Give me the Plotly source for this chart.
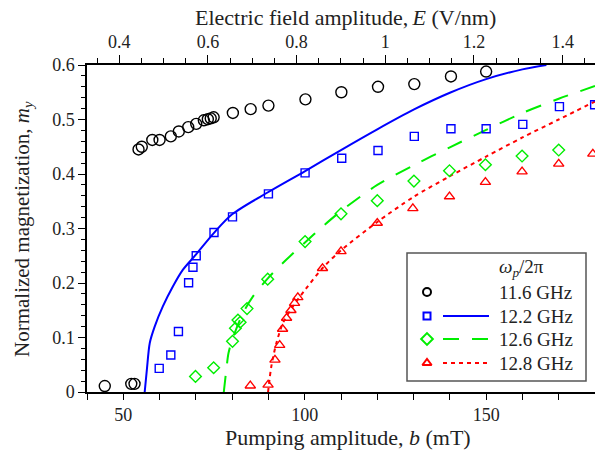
import plotly.graph_objects as go

# ---------------- data ----------------
b_116 = [44.9, 52.2, 53.1, 54.2, 55.1, 58.0, 60.0, 63.1, 65.3, 67.9, 70.1, 72.2, 73.3, 74.1, 74.9,
         80.2, 85.1, 90.0, 100.2, 110.1, 120.2, 130.2, 140.3, 150.0]
m_116 = [0.011, 0.015, 0.015, 0.445, 0.450, 0.4625, 0.4625, 0.469, 0.478, 0.486, 0.492, 0.4986, 0.5005,
         0.502, 0.504, 0.512, 0.519, 0.5255, 0.537, 0.550, 0.560, 0.565, 0.579, 0.588]

b_122 = [59.9, 63.1, 65.2, 68.0, 69.2, 70.1, 75.0, 80.1, 90.0, 100.1, 110.2, 120.2, 130.2, 140.3,
         150.0, 160.1, 170.2, 179.9]
m_122 = [0.0433, 0.068, 0.111, 0.2004, 0.229, 0.250, 0.2926, 0.3214, 0.3635, 0.402, 0.429, 0.443,
         0.469, 0.483, 0.483, 0.491, 0.5236, 0.527]

b_126 = [69.9, 74.9, 80.1, 80.9, 81.6, 82.2, 84.1, 89.8, 100.1, 110.0, 120.0, 130.1, 139.9, 149.8,
         159.9, 170.0]
m_126 = [0.0286, 0.0445, 0.093, 0.117, 0.132, 0.128, 0.153, 0.207, 0.276, 0.327, 0.351, 0.387, 0.406,
         0.417, 0.433, 0.444]

b_128 = [85.0, 89.9, 91.8, 93.1, 93.9, 95.0, 96.2, 97.2, 98.1, 104.9, 110.0, 120.0, 129.8, 139.9,
         149.8, 159.9, 170.0, 179.4]
m_128 = [0.0116, 0.013, 0.059, 0.086, 0.1155, 0.1357, 0.150, 0.163, 0.1737, 0.227, 0.258, 0.310,
         0.337, 0.3586, 0.385, 0.4044, 0.4185, 0.437]

# model curves
fit_b_122 = [55.9, 56.5, 57.3, 58.65, 60.9, 63.7, 66.4, 70.0, 75.0, 80.0, 90.0, 100.0, 110.0, 120.0,
             130.0, 140.0, 150.0, 160.0, 166.6]
fit_m_122 = [0.0, 0.041, 0.09, 0.12, 0.157, 0.194, 0.224, 0.252, 0.292, 0.326, 0.367, 0.405, 0.444,
             0.482, 0.518, 0.549, 0.574, 0.592, 0.600]

fit_b_126 = [77.7, 78.4, 79.0, 80.2, 83.0, 85.7, 89.9, 94.9, 100.0, 105.0, 110.0, 120.0, 130.0,
             140.0, 150.0, 160.0, 170.0, 180.0]
fit_m_126 = [0.0, 0.041, 0.0715, 0.099, 0.145, 0.175, 0.209, 0.2425, 0.274, 0.304, 0.332, 0.380, 0.416,
             0.449, 0.481, 0.512, 0.538, 0.5615]

fit_b_128 = [89.9, 90.8, 92.2, 94.0, 96.75, 100.4, 105.0, 110.0, 120.0, 130.0, 140.0, 150.0,
             160.0, 170.0, 180.0]
fit_m_128 = [0.0, 0.047, 0.09, 0.1265, 0.157, 0.19, 0.228, 0.260, 0.312, 0.358, 0.396, 0.432,
             0.467, 0.500, 0.533]

series_names = ["11.6 GHz", "12.2 GHz", "12.6 GHz", "12.8 GHz"]
legend_title = "<i>ω<sub>p</sub></i>/2π"

# E = b / k  (top axis conversion, mT per V/nm)
k_conv = 122.2
b_range = [40, 180]
m_range = [0, 0.6]

# ---------------- style ----------------
FONT = "'Liberation Serif', 'Times New Roman', 'DejaVu Serif', serif"
TXT = "#222222"
BLACK = "#000000"
BLUE = "#0000ff"
GREEN = "#00ee00"
RED = "#ff0000"

W, H = 595, 453
ML, MR, MT, MB = 87, 0, 65, 61
PW, PH = W - ML - MR, H - MT - MB

fig = go.Figure()

# fitted curves
fig.add_trace(go.Scatter(x=fit_b_122, y=fit_m_122, mode="lines", line=dict(color=BLUE, width=2, shape="spline", smoothing=0.8),
                         showlegend=False, hoverinfo="skip"))
fig.add_trace(go.Scatter(x=fit_b_126, y=fit_m_126, mode="lines", line=dict(color=GREEN, width=2, dash="16px,13px", shape="spline", smoothing=0.8),
                         showlegend=False, hoverinfo="skip"))
fig.add_trace(go.Scatter(x=fit_b_128, y=fit_m_128, mode="lines", line=dict(color=RED, width=2, dash="4px,4px", shape="spline", smoothing=0.8),
                         showlegend=False, hoverinfo="skip"))

# data points
fig.add_trace(go.Scatter(x=b_116, y=m_116, mode="markers", name=series_names[0],
                         marker=dict(symbol="circle-open", size=11, color=BLACK, line=dict(width=1.4)), showlegend=False))
fig.add_trace(go.Scatter(x=b_122, y=m_122, mode="markers", name=series_names[1],
                         marker=dict(symbol="square-open", size=8, color=BLUE, line=dict(width=1.4)), showlegend=False))
fig.add_trace(go.Scatter(x=b_126, y=m_126, mode="markers", name=series_names[2],
                         marker=dict(symbol="diamond-open", size=9, color=GREEN, line=dict(width=1.4)), showlegend=False))
fig.add_trace(go.Scatter(x=b_128, y=m_128, mode="markers", name=series_names[3],
                         marker=dict(symbol="triangle-up-open", size=9, color=RED, line=dict(width=1.4)), showlegend=False))

# empty trace to realise the top axis
fig.add_trace(go.Scatter(x=[None], y=[None], xaxis="x2", yaxis="y", showlegend=False, hoverinfo="skip"))

# ---------------- manual legend on a pixel-like overlay axis ----------------
# positions in pixels relative to the plot area top-left
leg_box = (320, 188, 499, 316)
leg_mx = 340
leg_l0, leg_l1 = 356, 402
leg_tx = 410
leg_title_y = 203
leg_rows = [227, 251, 274, 298]
leg_symbols = ["circle-open", "square-open", "diamond-open", "triangle-up-open"]
leg_sizes = [8, 7, 9, 8]
leg_colors = [BLACK, BLUE, GREEN, RED]
leg_dash = [None, "solid", "16px,13px", "4px,4px"]

for i in range(4):
    fig.add_trace(go.Scatter(x=[leg_mx], y=[leg_rows[i]], xaxis="x3", yaxis="y3", mode="markers",
                             marker=dict(symbol=leg_symbols[i], size=leg_sizes[i], color=leg_colors[i], line=dict(width=2)),
                             showlegend=False, hoverinfo="skip"))
    if leg_dash[i]:
        fig.add_trace(go.Scatter(x=[leg_l0, leg_l1], y=[leg_rows[i], leg_rows[i]], xaxis="x3", yaxis="y3", mode="lines",
                                 line=dict(color=leg_colors[i], width=2, dash=leg_dash[i]),
                                 showlegend=False, hoverinfo="skip"))
    fig.add_annotation(x=leg_tx, y=leg_rows[i], xref="x3", yref="y3", text=series_names[i], showarrow=False,
                       xanchor="left", yanchor="middle", font=dict(family=FONT, size=19, color=TXT))
fig.add_annotation(x=leg_tx, y=leg_title_y, xref="x3", yref="y3", text=legend_title, showarrow=False,
                   xanchor="left", yanchor="middle", font=dict(family=FONT, size=19, color=TXT))
fig.add_shape(type="rect", xref="x3", yref="y3", x0=leg_box[0], y0=leg_box[1], x1=leg_box[2], y1=leg_box[3],
              line=dict(color="#555555", width=1.5), fillcolor="white", layer="below")

# axis titles as annotations (pixel positions)
def px_x(p):
    return (p - ML) / PW

def px_y(p):
    return (H - MB - p) / PH

fig.add_annotation(x=px_x(348), y=px_y(437), xref="paper", yref="paper", showarrow=False,
                   text="Pumping amplitude, <i>b</i> (mT)", xanchor="center", yanchor="middle",
                   font=dict(family=FONT, size=22, color=TXT))
fig.add_annotation(x=px_x(345), y=px_y(17), xref="paper", yref="paper", showarrow=False,
                   text="Electric field amplitude,\u2009<i>E</i> (V/nm)", xanchor="center", yanchor="middle",
                   font=dict(family=FONT, size=22, color=TXT))
fig.add_annotation(x=px_x(23), y=px_y(229), xref="paper", yref="paper", showarrow=False, textangle=-90,
                   text="Normalized magnetization, <i>m<sub>y</sub></i>", xanchor="center", yanchor="middle",
                   font=dict(family=FONT, size=21, color=TXT))

axis_common = dict(showgrid=False, zeroline=False, showline=True, linecolor=BLACK, linewidth=1.5,
                   ticks="outside", tickcolor=BLACK, tickwidth=1.2, automargin=False,
                   tickfont=dict(family=FONT, size=18, color=TXT))

fig.update_layout(
    width=W, height=H,
    margin=dict(l=ML, r=MR, t=MT, b=MB, autoexpand=False),
    paper_bgcolor="white", plot_bgcolor="white",
    font=dict(family=FONT, color=TXT),
    xaxis=dict(range=b_range, tick0=0, dtick=50, ticklen=6,
               minor=dict(dtick=10, ticks="outside", ticklen=6, tickcolor=BLACK, tickwidth=1.2),
               **axis_common),
    xaxis2=dict(range=[b_range[0] / k_conv, b_range[1] / k_conv], overlaying="x", side="top", anchor="y",
                tick0=0, dtick=0.2, ticklen=8,
                minor=dict(dtick=0.05, ticks="outside", ticklen=5, tickcolor=BLACK, tickwidth=1.2),
                **axis_common),
    yaxis=dict(range=m_range, tick0=0, dtick=0.1, ticklen=7,
               minor=dict(dtick=0.02, ticks="outside", ticklen=4, tickcolor=BLACK, tickwidth=1.2),
               **axis_common),
    xaxis3=dict(range=[0, PW], visible=False, overlaying="x", anchor="y3", fixedrange=True),
    yaxis3=dict(range=[PH, 0], visible=False, overlaying="y", anchor="x3", fixedrange=True),
    showlegend=False,
)

fig.write_html("out.html", config={"displayModeBar": False},
               post_script="document.body.style.margin='0';document.body.style.padding='0';")
